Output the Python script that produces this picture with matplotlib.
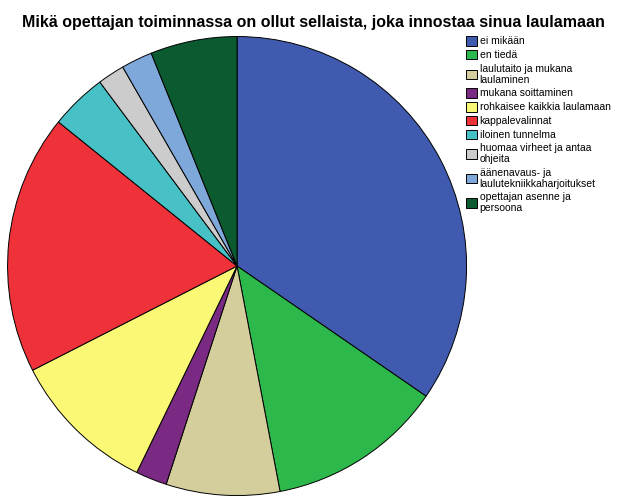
import matplotlib.pyplot as plt

plt.rcParams['font.family'] = ['Liberation Sans', 'DejaVu Sans']

labels = ['ei mikään', 'en tiedä', 'laulutaito ja mukana\nlaulaminen', 'mukana soittaminen',
          'rohkaisee kaikkia laulamaan', 'kappalevalinnat', 'iloinen tunnelma',
          'huomaa virheet ja antaa\nohjeita', 'äänenavaus- ja\nlaulutekniikkaharjoitukset',
          'opettajan asenne ja\npersoona']
# shares in percent
values = [34.6, 12.4, 8.0, 2.2, 10.3, 18.3, 4.0, 1.9, 2.2, 6.1]
colors = ['#3F5AAE', '#2DB84B', '#D3CE9C', '#7A2A82', '#FBF876', '#EF3139',
          '#48C1C6', '#CCCCCC', '#7DA8D9', '#0B5A30']

fig = plt.figure(figsize=(6.26, 5.01), dpi=100)
ax = fig.add_axes([0.0112, 0.01, 0.735, 0.918])

wedges, _ = ax.pie(values, colors=colors, startangle=90, counterclock=False,
                   wedgeprops=dict(edgecolor='black', linewidth=0.7))
ax.set_xlim(-1.002, 1.002)
ax.set_ylim(-1.002, 1.002)
ax.set_aspect('equal')

fig.text(0.5, 1 - 23 / 501, 'Mikä opettajan toiminnassa on ollut sellaista, joka innostaa sinua laulamaan',
         ha='center', va='center', fontsize=11.5, fontweight='bold')

leg = fig.legend(wedges, labels, loc='upper left', bbox_to_anchor=(466 / 626, 1 - 36 / 501),
                 frameon=False, fontsize=7.5, handlelength=1.05, handleheight=1.05,
                 handletextpad=0.25, labelspacing=0.33, borderaxespad=0, borderpad=0)
for t in leg.get_texts():
    t.set_linespacing(1.12)

plt.savefig('out.png', dpi=100)
